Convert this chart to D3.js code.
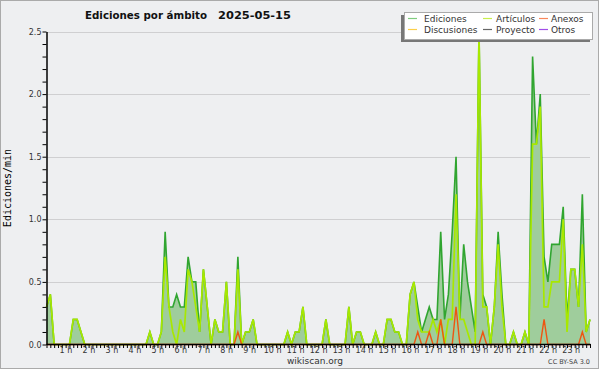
<!DOCTYPE html>
<html>
<head>
<meta charset="utf-8">
<script src="https://cdn.jsdelivr.net/npm/d3@7"></script>
<style>
  body { margin: 0; background: #fff; }
  svg text { font-family: "DejaVu Sans", sans-serif; }
</style>
</head>
<body>
<div class="chart"></div>
<script>
// values per 10 minute slot, edits per minute
const ediciones = [
  0.3, 0.4, 0, 0, 0, 0, 0, 0.2, 0.2, 0.1, 0, 0, 0, 0, 0, 0, 0, 0, 0, 0,
  0, 0, 0, 0, 0, 0, 0, 0.1, 0, 0, 0.1, 0.9, 0.3, 0.3, 0.4, 0.3, 0.3, 0.7, 0.5, 0.5,
  0.1, 0.6, 0.3, 0, 0.2, 0.1, 0.1, 0.5, 0, 0, 0.7, 0, 0.1, 0.1, 0.2, 0, 0, 0, 0, 0,
  0, 0, 0, 0.1, 0, 0.1, 0.1, 0.3, 0, 0, 0, 0, 0, 0.2, 0, 0, 0, 0, 0, 0.3,
  0, 0.1, 0.1, 0, 0, 0, 0.1, 0, 0, 0.2, 0.2, 0.1, 0.1, 0, 0, 0.4, 0.5, 0.3, 0.1, 0.2,
  0.3, 0.2, 0.2, 0.9, 0.2, 0.4, 0.9, 1.5, 0.2, 0.8, 0.5, 0.3, 0.1, 2.5, 0.4, 0.3, 0, 0.3, 0.9, 0.4,
  0, 0, 0.1, 0, 0, 0.1, 0, 2.3, 1.6, 2.0, 0.7, 0.5, 0.8, 0.8, 0.8, 1.1, 0.2, 0.6, 0.6, 0.3,
  1.2, 0.1, 0.2
];
const articulos = [
  0.3, 0.4, 0, 0, 0, 0, 0, 0.2, 0.2, 0.1, 0, 0, 0, 0, 0, 0, 0, 0, 0, 0,
  0, 0, 0, 0, 0, 0, 0, 0.1, 0, 0, 0.1, 0.7, 0.3, 0.1, 0, 0.2, 0.1, 0.6, 0.5, 0.3,
  0.1, 0.6, 0.3, 0, 0.2, 0.1, 0.1, 0.5, 0, 0, 0.6, 0, 0.1, 0.1, 0.2, 0, 0, 0, 0, 0,
  0, 0, 0, 0.1, 0, 0.1, 0.1, 0.3, 0, 0, 0, 0, 0, 0.2, 0, 0, 0, 0, 0, 0.3,
  0, 0.1, 0.1, 0, 0, 0, 0.1, 0, 0, 0.2, 0.2, 0.1, 0.1, 0, 0, 0.4, 0.5, 0.2, 0.1, 0.1,
  0.1, 0.2, 0.1, 0.2, 0, 0.2, 0.2, 1.2, 0.2, 0.2, 0.1, 0, 0, 2.5, 0.3, 0.3, 0, 0.3, 0.8, 0.3,
  0, 0, 0.1, 0, 0, 0.1, 0, 1.6, 1.6, 1.9, 0.3, 0.3, 0.5, 0.5, 0.5, 1.0, 0.1, 0.6, 0.6, 0.3,
  0.8, 0.1, 0.2
];
const anexos = [
  0, 0, 0, 0, 0, 0, 0, 0, 0, 0, 0, 0, 0, 0, 0, 0, 0, 0, 0, 0,
  0, 0, 0, 0, 0, 0, 0, 0, 0, 0, 0, 0, 0, 0, 0, 0, 0, 0, 0, 0,
  0, 0, 0, 0, 0, 0, 0, 0, 0, 0, 0.1, 0, 0, 0, 0, 0, 0, 0, 0, 0,
  0, 0, 0, 0, 0, 0, 0, 0, 0, 0, 0, 0, 0, 0, 0, 0, 0, 0, 0, 0,
  0, 0, 0, 0, 0, 0, 0, 0, 0, 0, 0, 0, 0, 0, 0, 0, 0, 0.1, 0, 0,
  0.1, 0, 0, 0.2, 0, 0, 0, 0.3, 0, 0, 0, 0, 0, 0, 0.1, 0, 0, 0, 0, 0,
  0, 0, 0, 0, 0, 0, 0, 0, 0, 0, 0.2, 0, 0, 0, 0, 0, 0, 0, 0, 0,
  0.1, 0, 0
];

const legendNames = ["Ediciones", "Artículos", "Anexos", "Discusiones", "Proyecto", "Otros"];
const legendColors = ["#7fcc7f", "#c8ee4c", "#f8875a", "#fccf4a", "#666666", "#a04ee8"];
const hourLabels = d3.range(1, 24).map(h => h + " h");
const yTicks = d3.range(0, 26).map(v => v / 10);

const width = 600, height = 370;
const bg = "#eeeff1";

const svg = d3.select(".chart").append("svg")
  .attr("width", width)
  .attr("height", height);

// frame
svg.append("rect")
  .attr("x", 0.5).attr("y", 0.5)
  .attr("width", 598).attr("height", 368)
  .attr("fill", bg)
  .attr("stroke", "#aaa");

const x = d3.scaleLinear().domain([0, ediciones.length - 1]).range([46.5, 590]);
const y = d3.scaleLinear().domain([0, 2.5]).range([344.5, 31.5]);

// grid lines
svg.append("g")
  .selectAll("line")
  .data([0.5, 1, 1.5, 2, 2.5])
  .enter()
  .append("line")
  .attr("x1", 47).attr("x2", 590)
  .attr("y1", d => Math.round(y(d)) + 0.5)
  .attr("y2", d => Math.round(y(d)) + 0.5)
  .attr("stroke", "#cfcfd1");

// total edits, filled
const area = d3.area()
  .x((d, i) => x(i))
  .y0(y(0))
  .y1(d => y(d));

const line = d3.line()
  .x((d, i) => x(i))
  .y(d => y(d));

svg.append("path")
  .attr("d", area(ediciones))
  .attr("fill", "#9fcd9c");

svg.append("path")
  .attr("d", line(ediciones))
  .attr("fill", "none")
  .attr("stroke", "#30a530")
  .attr("stroke-width", 1.6);

svg.append("path")
  .attr("d", line(articulos))
  .attr("fill", "none")
  .attr("stroke", "#a8e800")
  .attr("stroke-width", 1.7);

svg.append("path")
  .attr("d", line(anexos))
  .attr("fill", "none")
  .attr("stroke", "#ee5511")
  .attr("stroke-width", 1.4);

// x axis: a tick every 10 minutes, label every hour
const xAxis = d3.axisBottom(x)
  .tickValues(d3.range(0, ediciones.length))
  .tickFormat(i => (i % 6 === 0 && i > 0) ? hourLabels[i / 6 - 1] : "")
  .tickSize(4)
  .tickSizeOuter(0);

const gx = svg.append("g")
  .attr("transform", "translate(0,344)")
  .call(xAxis);
gx.select(".domain").attr("stroke", "#000").attr("stroke-width", 1.5);
gx.selectAll(".tick line").attr("stroke", "#000");
gx.selectAll(".tick text")
  .attr("y", 9)
  .attr("dy", 0)
  .attr("dx", -4)
  .attr("font-size", 8)
  .attr("font-family", "DejaVu Sans")
  .attr("fill", "#333");

// y axis
const yAxis = d3.axisLeft(y)
  .tickValues(yTicks)
  .tickFormat(v => (Math.round(v * 10) % 5 === 0) ? v.toFixed(1) : "")
  .tickSize(4)
  .tickSizeOuter(0);

const gy = svg.append("g")
  .attr("transform", "translate(46.5,0)")
  .call(yAxis);
gy.select(".domain").attr("stroke", "#000").attr("stroke-width", 1.5);
gy.selectAll(".tick line").attr("stroke", "#000");
gy.selectAll(".tick text")
  .attr("x", -5)
  .attr("font-size", 8)
  .attr("font-family", "DejaVu Sans")
  .attr("fill", "#333");

// y label
svg.append("text")
  .attr("transform", "translate(11,188) rotate(-90)")
  .attr("text-anchor", "middle")
  .style("font-family", "'DejaVu Sans Mono', monospace")
  .style("font-size", "10px")
  .attr("fill", "#000")
  .text("Ediciones/min");

// title
const title = svg.append("g")
  .style("font-weight", "bold")
  .style("font-size", "11px")
  .attr("fill", "#111");
title.append("text").attr("x", 85).attr("y", 18.5)
  .attr("textLength", 122).attr("lengthAdjust", "spacingAndGlyphs")
  .text("Ediciones por ámbito");
title.append("text").attr("x", 218).attr("y", 18.5)
  .attr("textLength", 73).attr("lengthAdjust", "spacingAndGlyphs")
  .text("2025-05-15");

// footer
svg.append("text")
  .attr("x", 315).attr("y", 364)
  .attr("text-anchor", "middle")
  .style("font-size", "9px")
  .attr("fill", "#333")
  .text("wikiscan.org");

svg.append("text")
  .attr("x", 590).attr("y", 364)
  .attr("text-anchor", "end")
  .style("font-size", "6.5px")
  .attr("fill", "#444")
  .text("CC BY-SA 3.0");

// legend
const legend = svg.append("g");
legend.append("rect")
  .attr("x", 401).attr("y", 15)
  .attr("width", 189).attr("height", 27)
  .attr("fill", "#777");
legend.append("rect")
  .attr("x", 404.5).attr("y", 12.5)
  .attr("width", 188).attr("height", 27)
  .attr("fill", "#fff")
  .attr("stroke", "#aaa");

const colX = [408, 483, 539];
const textX = [424, 496, 551];
const rowY = [18.5, 29.5];

const items = legend.selectAll("g.item")
  .data(legendNames)
  .enter()
  .append("g")
  .attr("class", "item");

items.append("line")
  .attr("x1", (d, i) => colX[i % 3])
  .attr("x2", (d, i) => colX[i % 3] + 9)
  .attr("y1", (d, i) => rowY[Math.floor(i / 3)])
  .attr("y2", (d, i) => rowY[Math.floor(i / 3)])
  .attr("stroke", (d, i) => legendColors[i])
  .attr("stroke-width", 1.2);

items.append("text")
  .attr("x", (d, i) => textX[i % 3])
  .attr("y", (d, i) => rowY[Math.floor(i / 3)] + 3.5)
  .style("font-size", "9px")
  .attr("fill", "#333")
  .text(d => d);
</script>
</body>
</html>
